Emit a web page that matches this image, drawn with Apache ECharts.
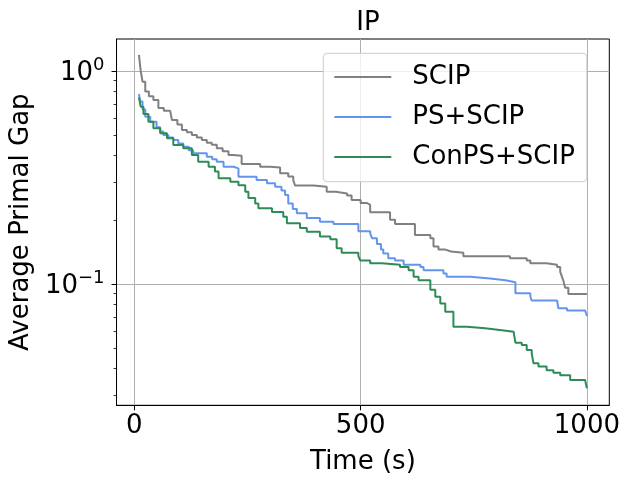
<!DOCTYPE html>
<html>
<head>
<meta charset="utf-8">
<script src="https://cdn.jsdelivr.net/npm/echarts@6/dist/echarts.min.js"></script>
<style>
html, body { margin: 0; padding: 0; background: #fff; }
#chart { width: 632px; height: 484px; }
</style>
</head>
<body>
<div id="chart"></div>
<script>
// step data: time (s) where the gap changes, and the new gap
var scipTime = [10, 14, 18, 24, 32, 42, 53, 65, 79, 83, 95, 105, 116, 127, 138, 149, 160, 171, 182, 195, 208, 218, 237, 278, 300, 322, 340, 351, 355, 396, 425, 445, 470, 480, 500, 514, 521, 565, 576, 620, 654, 661, 672, 687, 700, 727, 830, 867, 875, 911, 934, 941, 945, 948, 952, 959, 1000];
var scipGap = [1.19, 1.0, 0.89, 0.80, 0.76, 0.73, 0.67, 0.65, 0.644, 0.589, 0.56, 0.529, 0.515, 0.50, 0.487, 0.474, 0.46, 0.45, 0.434, 0.42, 0.403, 0.40, 0.366, 0.355, 0.352, 0.331, 0.32, 0.308, 0.29, 0.286, 0.271, 0.266, 0.26, 0.248, 0.24, 0.235, 0.217, 0.2, 0.191, 0.17, 0.164, 0.15, 0.145, 0.142, 0.140, 0.135, 0.132, 0.129, 0.125, 0.123, 0.12, 0.114, 0.108, 0.1035, 0.096, 0.0898, 0.0898];

var psTime = [10, 13, 18, 24, 35, 49, 57, 64, 75, 86, 97, 108, 120, 130, 160, 172, 182, 197, 219, 230, 270, 293, 311, 325, 333, 340, 350, 359, 381, 410, 440, 495, 521, 525, 536, 545, 550, 561, 576, 595, 632, 639, 683, 690, 742, 786, 820, 842, 875, 878, 934, 937, 956, 996, 1000];
var psGap = [0.78, 0.718, 0.66, 0.61, 0.578, 0.544, 0.52, 0.50, 0.487, 0.474, 0.457, 0.441, 0.425, 0.411, 0.396, 0.385, 0.375, 0.355, 0.349, 0.319, 0.308, 0.297, 0.286, 0.275, 0.262, 0.239, 0.225, 0.215, 0.204, 0.196, 0.191, 0.177, 0.173, 0.164, 0.154, 0.145, 0.139, 0.132, 0.129, 0.123, 0.12, 0.116, 0.112, 0.108, 0.106, 0.104, 0.102, 0.0904, 0.0873, 0.0836, 0.082, 0.0769, 0.0751, 0.0740, 0.0707];

var conTime = [10, 14, 20, 31, 42, 57, 72, 86, 108, 127, 141, 164, 178, 186, 212, 230, 245, 252, 267, 274, 304, 329, 337, 366, 381, 410, 433, 447, 458, 495, 499, 521, 547, 587, 606, 617, 628, 654, 665, 676, 687, 705, 735, 775, 812, 838, 842, 856, 867, 878, 882, 893, 911, 926, 941, 963, 996, 1000];
var conGap = [0.752, 0.68, 0.628, 0.578, 0.538, 0.51, 0.483, 0.449, 0.434, 0.403, 0.375, 0.355, 0.337, 0.314, 0.302, 0.291, 0.271, 0.253, 0.239, 0.227, 0.218, 0.207, 0.193, 0.183, 0.176, 0.167, 0.162, 0.147, 0.14, 0.135, 0.129, 0.125, 0.123, 0.12, 0.116, 0.108, 0.104, 0.094, 0.087, 0.081, 0.0741, 0.063, 0.0619, 0.0607, 0.0597, 0.0585, 0.053, 0.0517, 0.049, 0.0473, 0.0424, 0.041, 0.0394, 0.0383, 0.0373, 0.0354, 0.0352, 0.0324];

var seriesNames = ['SCIP', 'PS+SCIP', 'ConPS+SCIP'];
var seriesColors = ['#808080', '#6495ed', '#2e8b57'];

var xTicks = [0, 500, 1000];
var yMajor = [0.1, 1];
var yMinor = [0.03, 0.04, 0.05, 0.06, 0.07, 0.08, 0.09, 0.2, 0.3, 0.4, 0.5, 0.6, 0.7, 0.8, 0.9];

function pairs(t, v) {
    var out = [];
    for (var i = 0; i < t.length; i++) out.push([t[i], v[i]]);
    return out;
}

var font = 'DejaVu Sans';
var chart = echarts.init(document.getElementById('chart'));

var mkSeries = function(i, t, v) {
    return {
        name: seriesNames[i],
        type: 'line',
        step: 'end',
        symbol: 'none',
        yAxisIndex: 0,
        lineStyle: { color: seriesColors[i], width: 2 },
        itemStyle: { color: seriesColors[i] },
        data: pairs(t, v)
    };
};

var option = {
    animation: false,
    backgroundColor: '#fff',
    title: {
        text: 'IP',
        left: 363,
        top: 5,
        textAlign: 'center',
        textStyle: { fontFamily: font, fontSize: 26, fontWeight: 'normal', color: '#000' }
    },
    grid: {
        left: 116.5, top: 39, right: 22.7, bottom: 78.7,
        show: true, borderColor: '#000', borderWidth: 1
    },
    legend: {
        show: true,
        orient: 'vertical',
        left: 323.3,
        top: 53.3,
        padding: [10.7, 12, 11.7, 10],
        itemWidth: 57,
        itemHeight: 26,
        itemGap: 14,
        backgroundColor: 'rgba(255,255,255,0.8)',
        borderColor: '#cccccc',
        borderWidth: 1,
        borderRadius: 4,
        itemStyle: { opacity: 0 },
        lineStyle: { width: 2 },
        textStyle: { fontFamily: font, fontSize: 26, color: '#000', padding: [0, 0, 0, 16] },
        data: seriesNames
    },
    xAxis: {
        type: 'value',
        min: -39.5,
        max: 1049.5,
        name: 'Time (s)',
        nameLocation: 'middle',
        nameGap: 44,
        nameTextStyle: { fontFamily: font, fontSize: 26, color: '#000' },
        axisLine: { show: true, onZero: false, lineStyle: { color: '#000', width: 1 } },
        axisTick: { show: true, inside: false, length: 5, customValues: xTicks, lineStyle: { color: '#000' } },
        axisLabel: {
            customValues: xTicks, margin: 8, fontFamily: font, fontSize: 26, color: '#000',
            formatter: function(v) { return String(v); }
        },
        splitLine: { show: true, lineStyle: { color: '#b0b0b0', width: 1 } }
    },
    yAxis: [{
        type: 'log',
        logBase: 10,
        min: 0.02694,
        max: 1.413,
        name: 'Average Primal Gap',
        nameLocation: 'middle',
        nameGap: 74,
        nameTextStyle: { fontFamily: font, fontSize: 26, color: '#000' },
        axisLine: { show: true, onZero: false, lineStyle: { color: '#000', width: 1 } },
        axisTick: { show: true, inside: false, length: 5, customValues: yMajor, lineStyle: { color: '#000' } },
        axisLabel: {
            customValues: yMajor,
            margin: 12,
            formatter: function(v) {
                var e = Math.round(Math.log10(v));
                return '{a|10}{b|' + (e < 0 ? '\u2212' + (-e) : e) + '}';
            },
            rich: {
                a: { fontFamily: font, fontSize: 26, color: '#000', verticalAlign: 'bottom', lineHeight: 30 },
                b: { fontFamily: font, fontSize: 18, color: '#000', verticalAlign: 'top', lineHeight: 30 }
            }
        },
        splitLine: { show: true, lineStyle: { color: '#b0b0b0', width: 1 } }
    }, {
        type: 'log',
        logBase: 10,
        min: 0.02694,
        max: 1.413,
        position: 'left',
        axisLine: { show: false, onZero: false },
        axisTick: { show: true, inside: false, length: 3, customValues: yMinor, lineStyle: { color: '#000', width: 0.8 } },
        axisLabel: { show: false },
        splitLine: { show: false }
    }],
    series: [
        mkSeries(0, scipTime, scipGap),
        mkSeries(1, psTime, psGap),
        mkSeries(2, conTime, conGap)
    ]
};
chart.setOption(option);
</script>
</body>
</html>
